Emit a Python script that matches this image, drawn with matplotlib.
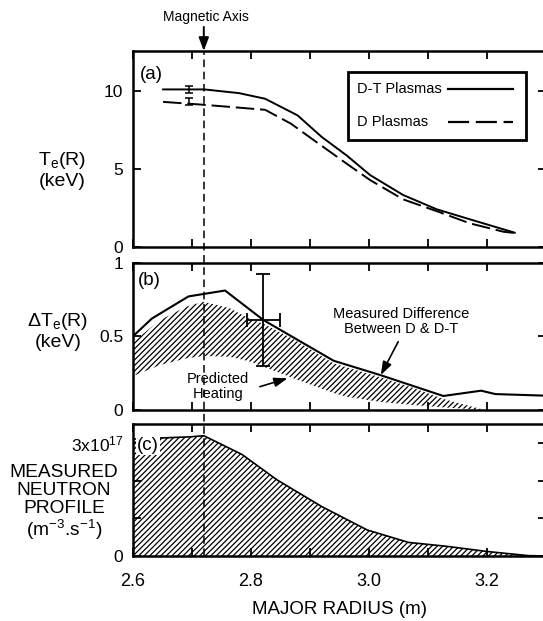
import numpy as np
import matplotlib
matplotlib.use('Agg')
import matplotlib.pyplot as plt
from matplotlib.transforms import blended_transform_factory
from matplotlib.patches import Rectangle
from matplotlib.lines import Line2D

plt.rcParams['font.family'] = ['Liberation Sans', 'DejaVu Sans']
plt.rcParams['mathtext.default'] = 'regular'
plt.rcParams['hatch.linewidth'] = 0.9
plt.rcParams['hatch.color'] = 'black'

# ---------------- data ----------------
# (a) electron temperature profiles (keV)
r_dt = [2.651, 2.721, 2.780, 2.824, 2.879, 2.920, 2.962, 3.002, 3.058, 3.115, 3.171, 3.247]
te_dt = [10.13, 10.13, 9.89, 9.53, 8.46, 7.07, 5.89, 4.62, 3.34, 2.42, 1.78, 0.92]
r_d = [2.651, 2.721, 2.824, 2.868, 2.903, 2.962, 3.002, 3.058, 3.115, 3.171, 3.228, 3.247]
te_d = [9.33, 9.14, 8.82, 7.92, 6.96, 5.36, 4.30, 3.06, 2.30, 1.52, 0.98, 0.90]
err_r_a = [2.695, 2.695]
err_val_a = [10.13, 9.33]
err_size_a = [0.22, 0.22]
legend_labels = ['D-T Plasmas', 'D Plasmas']

# (b) temperature difference (keV)
r_meas = [2.600, 2.632, 2.694, 2.756, 2.821, 2.940, 3.019, 3.126, 3.190, 3.214, 3.300]
dte_meas = [0.50, 0.62, 0.77, 0.81, 0.61, 0.334, 0.237, 0.095, 0.131, 0.108, 0.097]
r_pred = [2.600, 2.646, 2.690, 2.719, 2.764, 2.797, 2.821, 2.872, 2.940, 2.962, 3.019, 3.075, 3.126, 3.196]
pred_hi = [0.46, 0.61, 0.70, 0.734, 0.69, 0.62, 0.585, 0.48, 0.316, 0.29, 0.222, 0.15, 0.075, 0.0]
pred_lo = [0.23, 0.305, 0.35, 0.366, 0.361, 0.33, 0.294, 0.215, 0.115, 0.09, 0.055, 0.034, 0.018, 0.0]
err_r_b = 2.821
err_val_b = 0.61
err_x_b = 0.0275
err_y_b = 0.31

# (c) measured neutron profile (1e17 m^-3 s^-1)
r_neut = [2.600, 2.697, 2.720, 2.785, 2.844, 2.920, 2.997, 3.067, 3.130, 3.200, 3.270, 3.300]
neut = [3.10, 3.16, 3.19, 2.69, 2.02, 1.31, 0.69, 0.36, 0.26, 0.12, 0.01, 0.0]

r_axis = 2.72
x_major = [2.6, 2.8, 3.0, 3.2]
x_major_labels = ['2.6', '2.8', '3.0', '3.2']
x_minor = [2.7, 2.9, 3.1]

# ---------------- figure ----------------
W, H = 543, 621
fig = plt.figure(figsize=(W / 100, H / 100), dpi=100)

def px_axes(x0, x1, ytop, ybot):
    return fig.add_axes([x0 / W, 1 - ybot / H, (x1 - x0) / W, (ybot - ytop) / H])

ax_a = px_axes(133, 546, 51, 247)
ax_b = px_axes(133, 546, 262.5, 410)
ax_c = px_axes(133, 546, 424, 556)

SPW = 1.8
for ax in (ax_a, ax_b, ax_c):
    ax.set_xlim(2.6, 3.3)
    for s in ax.spines.values():
        s.set_linewidth(SPW)
    ax.set_xticks(x_major)
    ax.set_xticks(x_minor, minor=True)
    ax.tick_params(axis='x', which='both', direction='in', top=True, bottom=True,
                   length=6, width=1.3, labelsize=13, pad=12)
    ax.tick_params(axis='y', which='both', direction='in', left=True, right=True,
                   length=6, width=1.3, labelsize=12.5, pad=7)
    ax.set_facecolor('none')

ax_a.tick_params(axis='x', labelbottom=False)
ax_b.tick_params(axis='x', labelbottom=False)
ax_c.set_xticklabels(x_major_labels)

# ---- (a)
ax_a.set_ylim(0, 12.6)
ax_a.set_yticks([0, 5, 10])
ax_a.set_yticklabels(['0', '5', '10'])
l_dt, = ax_a.plot(r_dt, te_dt, color='black', lw=1.4, solid_joinstyle='round')
l_d, = ax_a.plot(r_d, te_d, color='black', lw=1.4, linestyle=(0, (9.5, 3)))
ax_a.errorbar(err_r_a, err_val_a, yerr=err_size_a, fmt='none', ecolor='black',
              elinewidth=1.1, capsize=3.2, capthick=1.1)
ax_a.text(0.017, 0.88, '(a)', transform=ax_a.transAxes, fontsize=13.5,
          ha='left', va='center')

# legend (manual box)
ax_a.add_patch(Rectangle((0.5206, 0.5459), 0.9516 - 0.5206, 0.8929 - 0.5459,
                         transform=ax_a.transAxes, fill=False, lw=2.0,
                         edgecolor='black', zorder=5))
for lab, yy, ls in zip(legend_labels, [0.806, 0.639], ['-', (0, (9.5, 3))]):
    ax_a.text(0.5414, yy, lab, transform=ax_a.transAxes, fontsize=10.5,
              ha='left', va='center', zorder=6)
    ax_a.add_line(Line2D([0.7627, 0.9189], [yy, yy], transform=ax_a.transAxes,
                         color='black', lw=1.6, linestyle=ls, zorder=6))

# Magnetic axis arrow + text
ax_a.annotate('', xy=(r_axis, 12.6), xytext=(r_axis, 14.15), annotation_clip=False,
              arrowprops=dict(arrowstyle='-|>,head_length=0.8,head_width=0.3',
                              color='black', lw=1.4, shrinkA=0, shrinkB=0))
ax_a.text(r_axis + 0.004, 14.8, 'Magnetic Axis', fontsize=10, ha='center',
          va='center', clip_on=False)

# ---- (b)
ax_b.set_ylim(0, 1)
ax_b.set_yticks([0, 0.5, 1])
ax_b.set_yticklabels(['0', '0.5', '1'])
ax_b.fill_between(r_pred, pred_lo, pred_hi, facecolor='none', hatch='//////',
                  edgecolor='black', linewidth=0)
ax_b.plot(r_meas, dte_meas, color='black', lw=1.5, solid_joinstyle='miter')
ax_b.errorbar([err_r_b], [err_val_b], xerr=[err_x_b], yerr=[err_y_b], fmt='none',
              ecolor='black', elinewidth=1.3, capsize=4.8, capthick=1.3)
ax_b.text(0.012, 0.881, '(b)', transform=ax_b.transAxes, fontsize=13.5,
          ha='left', va='center')
ax_b.text(3.054, 0.60, 'Measured Difference\nBetween D & D-T', fontsize=10.5,
          ha='center', va='center', linespacing=1.1)
ax_b.annotate('', xy=(3.020, 0.237), xytext=(3.0495, 0.463),
              arrowprops=dict(arrowstyle='-|>,head_length=0.8,head_width=0.28',
                              color='black', lw=1.2, shrinkA=0, shrinkB=0))
ax_b.text(2.744, 0.158, 'Predicted\nHeating', fontsize=10.5, ha='center',
          va='center', linespacing=1.1)
ax_b.annotate('', xy=(2.862, 0.215), xytext=(2.815, 0.158),
              arrowprops=dict(arrowstyle='-|>,head_length=0.8,head_width=0.28',
                              color='black', lw=1.2, shrinkA=0, shrinkB=0))

# ---- (c)
ax_c.set_ylim(0, 3.5)
ax_c.set_yticks([0, 1, 2, 3])
ax_c.set_yticklabels(['0', '', '', '3x10$^{17}$'])
ax_c.fill_between(r_neut, 0, neut, facecolor='none', hatch='//////',
                  edgecolor='black', linewidth=0)
ax_c.plot(r_neut, neut, color='black', lw=1.2)
ax_c.text(0.01, 0.837, '(c)', transform=ax_c.transAxes, fontsize=13.5,
          ha='left', va='center', zorder=10,
          bbox=dict(facecolor='white', edgecolor='none', pad=0.5))
ax_c.set_xlabel('MAJOR RADIUS (m)', fontsize=13.5, labelpad=8)

# Magnetic axis dashed vertical line spanning all panels
trans = blended_transform_factory(ax_a.transData, fig.transFigure)
fig.add_artist(Line2D([r_axis, r_axis], [1 - 556 / H, 1 - 51 / H], transform=trans,
                      color='black', lw=1.1, linestyle=(0, (5, 3)), zorder=20))

# ---- y labels (figure text)
fig.text(62 / W, 1 - 170 / H, 'T$_e$(R)\n(keV)', fontsize=14, ha='center',
         va='center', multialignment='center', linespacing=1.15)
fig.text(58 / W, 1 - 331 / H, '$\\Delta$T$_e$(R)\n(keV)', fontsize=14, ha='center',
         va='center', multialignment='center', linespacing=1.15)
fig.text(64 / W, 1 - 503 / H, 'MEASURED\nNEUTRON\nPROFILE\n(m$^{-3}$.s$^{-1}$)',
         fontsize=13.8, ha='center', va='center', multialignment='center',
         linespacing=1.05)

fig.savefig('out.png', dpi=100)
